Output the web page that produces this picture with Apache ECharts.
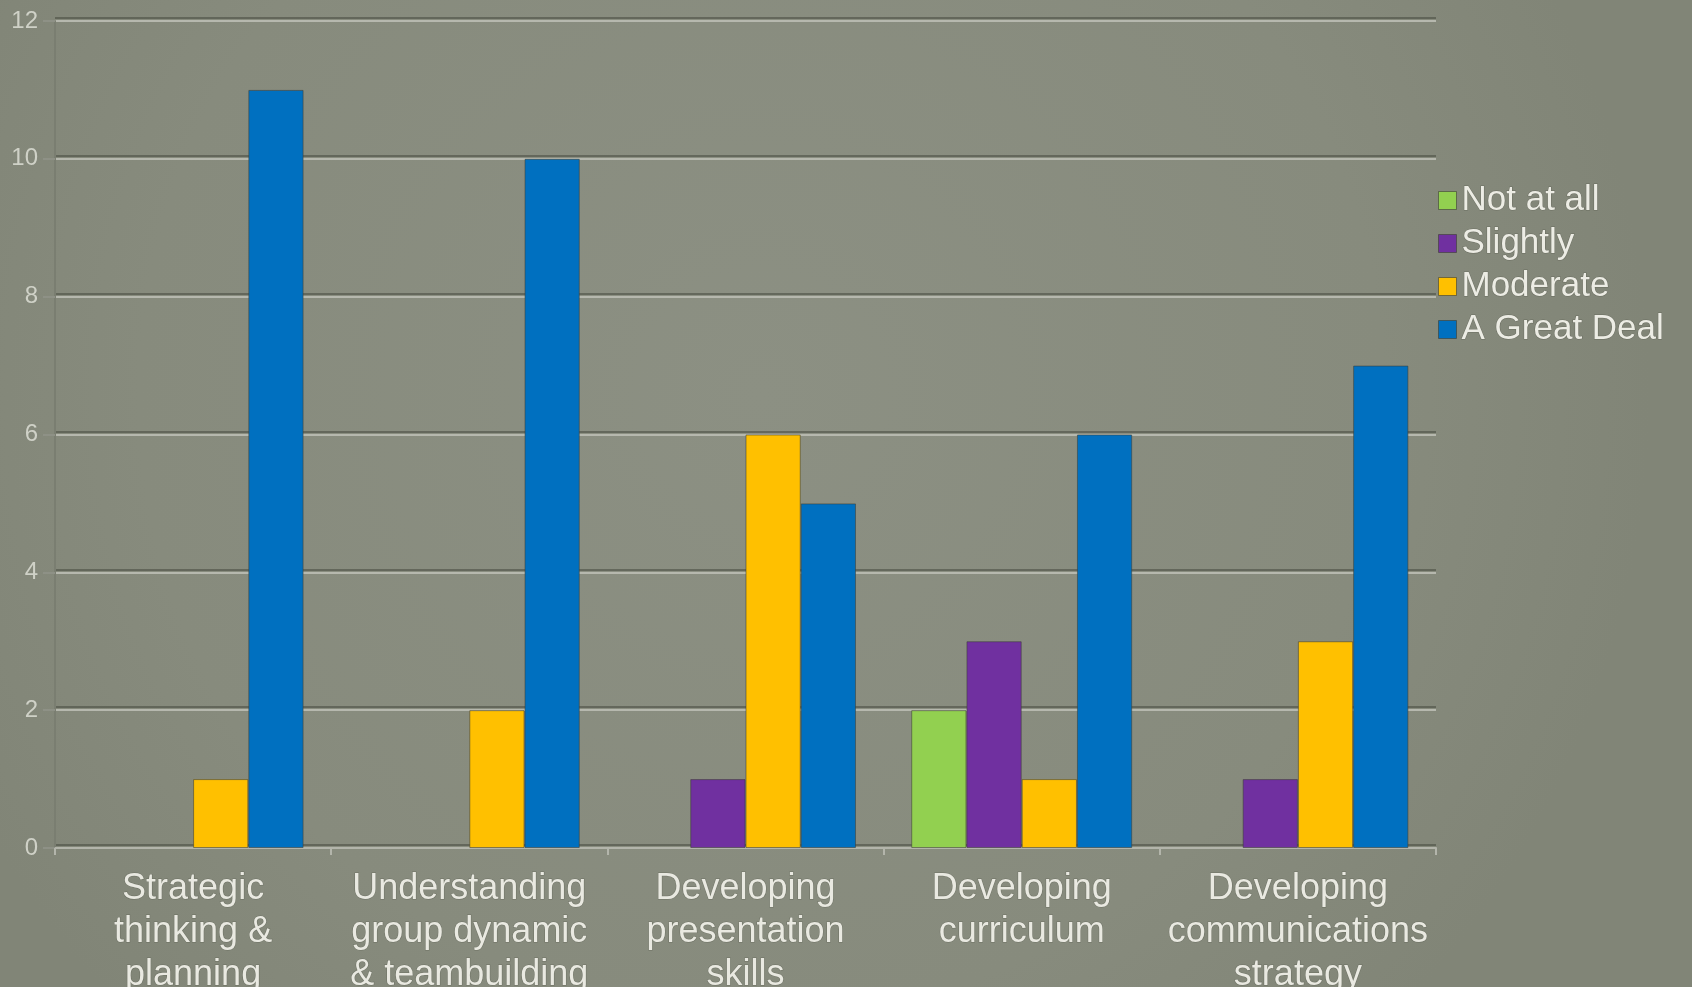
<!DOCTYPE html>
<html>
<head>
<meta charset="utf-8">
<title>Skill development ratings</title>
<script src="https://cdn.jsdelivr.net/npm/echarts@6/dist/echarts.min.js"></script>
<style>
  html, body { margin: 0; padding: 0; background: #878b7d; }
  #chart { width: 1692px; height: 987px; }
</style>
</head>
<body>
<div id="chart"></div>
<script>
// Survey categories (x axis)
const categories = [
  'Strategic\nthinking &\nplanning',
  'Understanding\ngroup dynamic\n& teambuilding',
  'Developing\npresentation\nskills',
  'Developing\ncurriculum',
  'Developing\ncommunications\nstrategy'
];

// Response counts per rating level
const notAtAll   = [0, 0, 0, 2, 0];
const slightly   = [0, 0, 1, 3, 1];
const moderate   = [1, 2, 6, 1, 3];
const greatDeal  = [11, 10, 5, 6, 7];

const seriesNames = ['Not at all', 'Slightly', 'Moderate', 'A Great Deal'];
const seriesColors = ['#92d050', '#7030a0', '#ffc000', '#0070c0'];
const seriesValues = [notAtAll, slightly, moderate, greatDeal];

// Y axis range
const yMin = 0, yMax = 12, yStep = 2;

const textFont = '"Liberation Sans", Arial, sans-serif';

const chart = echarts.init(document.getElementById('chart'));

const series = seriesNames.map((name, i) => ({
  name: name,
  type: 'bar',
  barGap: '0%',
  barCategoryGap: '20%',
  itemStyle: {
    color: seriesColors[i],
    borderColor: 'rgba(60,62,52,0.55)',
    borderWidth: 1
  },
  data: seriesValues[i].map(v => v === 0
    ? { value: v, itemStyle: { borderWidth: 0 } }
    : v)
}));

chart.setOption({
  backgroundColor: {
    type: 'radial', x: 0.45, y: 0.4, r: 0.9,
    colorStops: [
      { offset: 0, color: '#8c9083' },
      { offset: 0.7, color: '#878b7d' },
      { offset: 1, color: '#818577' }
    ]
  },
  animation: false,
  grid: {
    left: 55, right: 256, top: 21, bottom: 139,
    containLabel: false,
    outerBoundsMode: 'none'
  },
  legend: {
    orient: 'vertical',
    left: 1433,
    top: 174,
    itemWidth: 18,
    itemHeight: 18,
    itemGap: 0,
    icon: 'rect',
    itemStyle: { borderColor: 'rgba(60,62,52,0.6)', borderWidth: 1 },
    textStyle: {
      color: '#ececE4',
      fontFamily: textFont,
      fontSize: 35,
      lineHeight: 43,
      textBorderColor: 'rgba(90,92,80,0.6)',
      textBorderWidth: 1
    },
    data: seriesNames
  },
  xAxis: {
    type: 'category',
    data: categories,
    axisLine: { show: true, lineStyle: { color: '#b3b5ab', width: 2 } },
    axisTick: { show: true, length: 7, lineStyle: { color: '#b3b5ab', width: 2 } },
    axisLabel: {
      interval: 0,
      margin: 20,
      color: '#e9e9e1',
      fontFamily: textFont,
      fontSize: 36,
      lineHeight: 43,
      verticalAlign: 'top',
      textBorderColor: 'rgba(90,92,80,0.55)',
      textBorderWidth: 1
    }
  },
  yAxis: {
    type: 'value',
    min: yMin,
    max: yMax,
    interval: yStep,
    axisLine: { show: true, lineStyle: { color: '#7a7e71', width: 2 } },
    axisTick: { show: true, length: 12, lineStyle: { color: '#8e9186', width: 2 } },
    axisLabel: {
      margin: 17,
      color: '#cfd1c7',
      fontFamily: textFont,
      fontSize: 24
    },
    splitLine: {
      show: true,
      lineStyle: {
        color: '#b6b8ae',
        width: 2,
        shadowColor: 'rgba(70,72,62,0.55)',
        shadowBlur: 0,
        shadowOffsetY: -3
      }
    }
  },
  series: series
});
</script>
</body>
</html>
